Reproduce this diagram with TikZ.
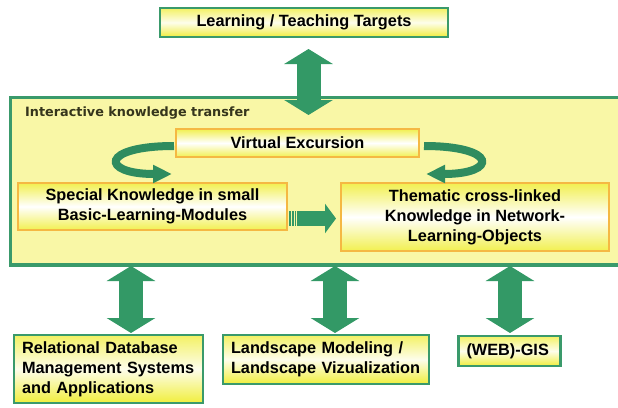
\documentclass[tikz,border=0pt]{standalone}
\usepackage{fontspec}
\setmainfont{Liberation Sans}
\newfontfamily\captionfont{DejaVu Sans}
\usetikzlibrary{arrows.meta,calc}

\definecolor{frameGreen}{HTML}{3A9A6B}
\definecolor{arrowGreen}{HTML}{339966}
\definecolor{curlGreen}{HTML}{2F8C5F}
\definecolor{panelYellow}{HTML}{F9F7A6}
\definecolor{boxYellow}{HTML}{F0EE3C}
\definecolor{edgeOrange}{HTML}{F5B843}
\definecolor{captionInk}{HTML}{35351C}

\begin{document}
\begin{tikzpicture}[x=1pt,y=-1pt,
  boxtext/.style={font=\fontsize{16.3}{20}\selectfont\bfseries, text=black},
  greenbox/.style={boxtext, draw=frameGreen, line width=2.5pt,
    top color=boxYellow!80, bottom color=boxYellow, middle color=boxYellow!10,
    inner sep=0pt},
  orangebox/.style={boxtext, draw=edgeOrange, line width=2pt,
    top color=boxYellow!90, bottom color=boxYellow!90, middle color=white,
    inner sep=0pt, align=center},
  leftbox/.style={greenbox, align=left, inner xsep=8pt},
  updown/.style={draw=arrowGreen, line width=24pt,
    {Triangle[length=15pt,width=48pt]}-{Triangle[length=15pt,width=48pt]}},
  curl/.style={draw=curlGreen, line width=8pt,
    -{Triangle[length=19pt,width=17pt]}},
  push/.style={draw=arrowGreen, line width=15pt,
    -{Triangle[length=11pt,width=29pt]}},
  stripe/.style={fill=arrowGreen}
]
\useasboundingbox (0,0) rectangle (618,407);
\fill[white] (0,0) rectangle (618,407);

% outer panel for the interactive part
\node[draw=frameGreen, line width=3.5pt, fill=panelYellow, inner sep=0pt,
      minimum width=622pt, minimum height=167.5pt, anchor=north west]
      (panel) at (8.5,95.5) {};
\node[font=\captionfont\fontsize{12.8}{14}\selectfont\bfseries, text=captionInk,
      anchor=base west, inner sep=0pt] (caption) at (25,116)
      {Interactive knowledge transfer};

% boxes
\node[greenbox, minimum width=288pt, minimum height=29pt] (targets)
      at (304,22.5) {Learning / Teaching Targets};
\node[orangebox, minimum width=243pt, minimum height=28pt] (excursion)
      at (297.5,143) {Virtual Excursion};
\node[orangebox, minimum width=269pt, minimum height=47pt] (modules)
      at (152.5,206.5) {Special Knowledge in small\\Basic-Learning-Modules};
\node[orangebox, minimum width=268pt, minimum height=68pt] (network)
      at (475,217) {Thematic cross-linked\\Knowledge in Network-\\Learning-Objects};

\node[leftbox, minimum width=189pt, minimum height=68pt, text width=173pt]
      (rdbms) at (108.5,369) {Relational Database\\Management Systems\\and Applications};
\node[leftbox, minimum width=206pt, minimum height=49pt, text width=190pt]
      (landscape) at (326,359.5) {Landscape Modeling /\\Landscape Vizualization};
\node[leftbox, minimum width=99pt, minimum height=30pt, text width=86pt]
      (gis) at (509.5,351) {(WEB)-GIS};

% two-way links
\coordinate (t1) at (308.5,49);  \coordinate (t2) at (308.5,115);
\draw[updown] (t1) -- (t2);
\coordinate (b1a) at (131,266);  \coordinate (b1b) at (131,333);
\coordinate (b2a) at (335,266);  \coordinate (b2b) at (335,333);
\coordinate (b3a) at (510,266);  \coordinate (b3b) at (510,333);
\draw[updown] (b1a) -- (b1b);
\draw[updown] (b2a) -- (b2b);
\draw[updown] (b3a) -- (b3b);

% loops from the excursion back into the knowledge boxes
\coordinate (l1) at (174,146);  \coordinate (l2) at (172,174);
\draw[curl] (l1) .. controls (100,146) and (100,174) .. (l2);
\coordinate (r1) at (424,146);  \coordinate (r2) at (426,174);
\draw[curl] (r1) .. controls (498,146) and (498,174) .. (r2);

% modules feed the network objects
\fill[stripe] (289,211) rectangle (290.7,226);
\fill[stripe] (292,211) rectangle (293.7,226);
\fill[stripe] (295,211) rectangle (296.3,226);
\coordinate (p1) at (296.8,218.5);  \coordinate (p2) at (336,218.5);
\draw[push] (p1) -- (p2);
\end{tikzpicture}
\end{document}
